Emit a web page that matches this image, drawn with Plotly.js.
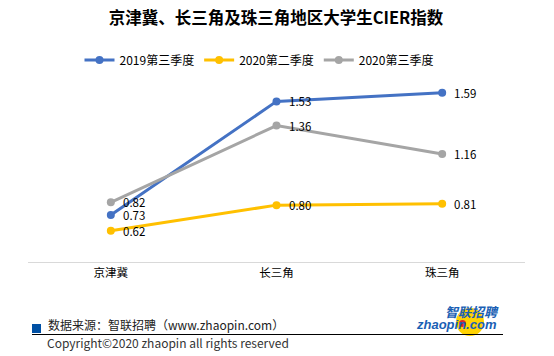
<!DOCTYPE html>
<html><head><meta charset="utf-8">
<script src="https://cdn.plot.ly/plotly-3.0.1.min.js"></script>
<style>html,body{margin:0;padding:0;background:#fff}#c{width:554px;height:356px}</style>
</head><body><div id="c"></div>
<script>
var categories = ['京津冀', '长三角', '珠三角'];
var seriesNames = ['2019第三季度', '2020第二季度', '2020第三季度'];
var s2019Q3 = [0.73, 1.53, 1.59];
var s2020Q2 = [0.62, 0.80, 0.81];
var s2020Q3 = [0.82, 1.36, 1.16];
var colors = ['#4472c4', '#ffc000', '#a5a5a5'];
var allSeries = [s2019Q3, s2020Q2, s2020Q3];

var traces = allSeries.map(function (vals, i) {
  return {
    x: categories, y: vals, name: seriesNames[i], type: 'scatter', mode: 'lines+markers',
    line: {color: colors[i], width: 3}, marker: {color: colors[i], size: 8},
    hoverinfo: 'none'
  };
});

var font = 'Microsoft YaHei, "Noto Sans CJK SC", sans-serif';
function px(x) { return (x - 28) / 497; }
function py(y) { return (262 - y) / 199; }

var annotations = [];
allSeries.forEach(function (vals, i) {
  vals.forEach(function (v, j) {
    annotations.push({x: categories[j], y: v, xref: 'x', yref: 'y', text: v.toFixed(2),
      showarrow: false, xanchor: 'left', yanchor: 'middle', xshift: 10,
      font: {family: font, size: 11.5, color: '#000'}});
  });
});
var footer = [
  {text: '数据来源：智联招聘（www.zhaopin.com）', x: 46, y: 324, size: 12, color: '#222'},
  {text: 'Copyright©2020 zhaopin all rights reserved', x: 45, y: 342, size: 12, color: '#333'}
];
footer.forEach(function (f) {
  annotations.push({xref: 'paper', yref: 'paper', x: px(f.x), y: py(f.y),
    text: f.text, showarrow: false, xanchor: 'left', yanchor: 'middle',
    font: {family: font, size: f.size, color: f.color}});
});
annotations.push({xref: 'paper', yref: 'paper', x: px(501), y: py(311),
  text: '<b><i>智联招聘</i></b>', showarrow: false, xanchor: 'right', yanchor: 'middle',
  font: {family: font, size: 13, color: '#1a5fb4'}});
annotations.push({xref: 'paper', yref: 'paper', x: px(499), y: py(324),
  text: '<b><i>zhaopin.com</i></b>', showarrow: false, xanchor: 'right', yanchor: 'middle',
  font: {family: 'Arial, Liberation Sans, sans-serif', size: 13, color: '#1a5fb4'}});

var shapes = [
  {type: 'rect', xref: 'paper', yref: 'paper', x0: px(32), x1: px(41), y0: py(333), y1: py(324),
    fillcolor: '#0050a4', line: {width: 0}},
  {type: 'line', xref: 'paper', yref: 'paper', x0: px(32), x1: px(503), y0: py(334.5), y1: py(334.5),
    line: {color: '#000', width: 1}},
  {type: 'circle', xref: 'paper', yref: 'paper', x0: px(456), x1: px(484), y0: py(336), y1: py(308),
    fillcolor: '#ffd200', line: {width: 0}, layer: 'below'},
  {type: 'circle', xref: 'paper', yref: 'paper', x0: px(459), x1: px(466), y0: py(327), y1: py(320),
    fillcolor: '#d9262c', line: {width: 0}, layer: 'above'}
];

var layout = {
  width: 554, height: 356,
  margin: {l: 28, r: 29, t: 63, b: 94},
  paper_bgcolor: '#fff', plot_bgcolor: '#fff',
  title: {text: '<b>京津冀、长三角及珠三角地区大学生CIER指数</b>', x: (276 - 0) / 554, xanchor: 'center',
    y: 1 - 18 / 356, yanchor: 'middle', yref: 'container',
    font: {family: font, size: 16.5, color: '#000'}},
  showlegend: true,
  legend: {orientation: 'h', x: px(259), xanchor: 'center', y: 1 + (63 - 60) / 199, yanchor: 'middle',
    font: {family: font, size: 12, color: '#000'}},
  xaxis: {type: 'category', range: [-0.5, 2.5], showgrid: false, zeroline: false,
    showline: true, linecolor: '#d9d9d9', linewidth: 1, ticks: '',
    tickfont: {family: font, size: 11.5, color: '#000'}, fixedrange: true},
  yaxis: {range: [0.4, 1.8], showgrid: false, zeroline: false, showline: false,
    showticklabels: false, fixedrange: true},
  annotations: annotations,
  shapes: shapes
};
Plotly.newPlot('c', traces, layout, {staticPlot: true});
</script></body></html>
